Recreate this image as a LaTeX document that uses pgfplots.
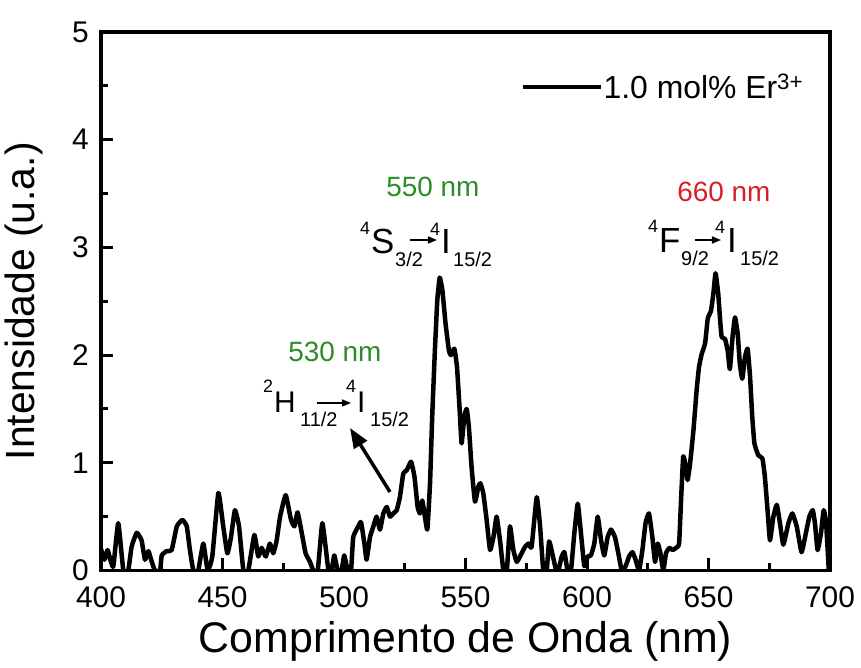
\documentclass[border=0pt]{standalone}
\usepackage{fontspec}
\setmainfont{Liberation Sans}
\usepackage{pgfplots}
\pgfplotsset{compat=1.18}
\usetikzlibrary{arrows.meta}
\definecolor{grn}{RGB}{45,140,40}
\definecolor{rd}{RGB}{215,30,40}
\newcommand{\fs}[1]{\fontsize{#1}{#1}\selectfont}

\pgfplotstableread{
wl I
400.0 0.20
401.4 0.10
402.7 0.19
404.1 0.08
405.1 0.04
407.1 0.44
409.2 0.00
411.2 0.00
412.6 0.22
414.7 0.35
416.7 0.28
418.1 0.10
419.5 0.18
420.9 0.08
422.2 0.00
424.3 0.00
425.0 0.14
427.0 0.18
429.1 0.19
431.2 0.41
433.5 0.47
435.3 0.41
436.6 0.19
438.0 0.00
440.0 0.00
442.1 0.25
443.9 0.00
445.8 0.13
448.3 0.72
450.3 0.41
452.0 0.16
453.5 0.31
455.1 0.56
456.8 0.41
458.6 0.00
460.6 0.00
463.1 0.33
464.7 0.13
466.1 0.21
467.8 0.13
469.5 0.25
470.9 0.16
472.3 0.28
473.7 0.50
476.0 0.70
478.2 0.47
479.6 0.41
480.9 0.54
482.6 0.35
484.2 0.16
486.0 0.08
487.4 0.00
489.2 0.00
491.1 0.44
493.6 0.00
494.9 0.00
496.0 0.14
497.4 0.00
499.0 0.00
500.1 0.14
501.5 0.00
502.9 0.00
503.8 0.31
505.9 0.41
507.0 0.45
508.4 0.25
509.3 0.10
510.7 0.31
512.1 0.41
513.4 0.50
514.8 0.38
516.2 0.53
517.6 0.59
518.9 0.50
520.3 0.53
521.7 0.56
523.0 0.68
524.4 0.90
525.8 0.93
527.6 1.01
529.0 0.87
530.3 0.59
531.3 0.53
532.2 0.65
533.3 0.50
534.3 0.38
535.4 0.81
536.3 1.43
537.4 2.04
538.4 2.51
539.4 2.72
540.5 2.60
541.8 2.29
543.2 2.04
544.0 2.00
545.4 2.06
546.5 1.89
547.6 1.49
548.4 1.18
549.5 1.43
550.5 1.50
551.4 1.33
552.5 0.96
553.9 0.64
555.3 0.78
556.1 0.81
557.3 0.72
558.7 0.47
560.1 0.19
561.5 0.31
562.8 0.50
564.2 0.28
565.6 0.00
567.0 0.00
568.3 0.41
569.7 0.19
571.1 0.08
573.1 0.16
574.5 0.22
575.9 0.25
577.2 0.22
579.3 0.68
580.7 0.41
582.0 0.00
583.4 0.00
584.4 0.27
585.7 0.16
587.1 0.02
588.2 0.00
589.6 0.13
590.7 0.17
592.0 0.00
593.4 0.00
594.8 0.35
596.2 0.62
597.5 0.35
598.9 0.04
600.3 0.13
601.6 0.14
603.0 0.25
604.4 0.50
605.8 0.28
607.1 0.14
608.5 0.31
609.9 0.38
611.5 0.31
612.9 0.16
614.3 0.00
615.9 0.04
617.3 0.13
618.7 0.17
620.0 0.10
621.4 0.00
622.8 0.19
624.1 0.44
625.5 0.53
626.9 0.31
628.0 0.08
629.1 0.25
630.2 0.16
631.4 0.00
632.5 0.16
633.9 0.21
635.3 0.19
636.6 0.21
637.9 0.25
638.7 0.65
639.6 1.06
640.7 0.96
641.4 0.84
642.4 0.99
643.8 1.30
645.1 1.67
646.1 1.89
647.2 2.01
648.6 2.11
649.7 2.34
651.0 2.41
652.0 2.57
652.9 2.76
654.0 2.57
654.7 2.35
655.4 2.17
656.8 2.15
657.9 2.04
658.8 1.87
659.9 2.17
660.9 2.35
662.0 2.20
662.9 1.92
663.9 1.78
665.0 1.98
666.1 2.06
667.1 1.80
668.0 1.43
668.9 1.18
670.5 1.07
672.2 1.04
673.2 0.87
674.3 0.56
675.3 0.28
676.7 0.50
678.1 0.61
679.4 0.44
680.8 0.24
682.9 0.44
684.5 0.53
686.3 0.41
688.3 0.17
690.1 0.35
691.5 0.50
692.9 0.56
693.8 0.44
694.9 0.19
696.3 0.35
697.4 0.56
698.4 0.44
699.5 0.00
}\spectrum

\begin{document}
\begin{tikzpicture}
\begin{axis}[
  name=ax, anchor=south west, at={(0,0)},
  width=729bp, height=538.5bp, scale only axis,
  xmin=400, xmax=700, ymin=0, ymax=5,
  xtick={400,450,...,700}, ytick={0,1,...,5},
  minor x tick num=1, minor y tick num=1,
  tick align=inside, xtick pos=lower, ytick pos=left,
  major tick length=12bp, minor tick length=7bp,
  tick style={black, line width=3bp},
  axis line style={line width=3.8bp},
  /pgf/number format/assume math mode=true,
  every tick label/.append style={inner sep=1bp},
  xticklabel style={font=\fs{30}, yshift=-15bp},
  yticklabel style={font=\fs{30}, xshift=-11bp},
  xlabel={Comprimento de Onda (nm)},
  ylabel={Intensidade (u.a.)},
  xlabel style={font=\fs{43}, at={(axis description cs:0.5,-0.131)}, anchor=center},
  ylabel style={font=\fs{41}, at={(axis description cs:-0.106,0.5)}, anchor=center},
  legend style={draw=none, fill=none, font=\fs{32}, at={(0.576,0.898)}, anchor=west,
    inner sep=0pt, nodes={inner sep=0pt},
    /tikz/every even column/.append style={column sep=5bp}},
  legend image code/.code={\draw[#1] (0bp,0bp) -- (78bp,0bp);},
]
\addplot[black, line width=4.5bp, line join=round, smooth, tension=0.25] table[x=wl, y=I] {\spectrum};
\addlegendentry{1.0 mol\% Er\textsuperscript{3+}}
\end{axis}

\begin{scope}[shift={(-101bp,570.5bp)}, x=1bp, y=-1bp, every node/.style={inner sep=0pt}]
  % colored wavelength labels
  \node[anchor=base, text=grn, font=\fs{28}] at (433,197) {550 nm};
  \node[anchor=base, text=rd,  font=\fs{28}] at (724,202) {660 nm};
  \node[anchor=base, text=grn, font=\fs{28}] at (335,362) {530 nm};
  % 4S3/2 -> 4I15/2
  \node[anchor=base west, font=\fs{18}] at (360,235) {4};
  \node[anchor=base west, font=\fs{35}] at (371,254) {S};
  \node[anchor=base west, font=\fs{20}] at (395,267) {3/2};
  \node[anchor=base west, font=\fs{18}] at (430,236) {4};
  \node[anchor=base west, font=\fs{35}] at (441,254) {I};
  \node[anchor=base west, font=\fs{20}] at (453,267) {15/2};
  \draw[line width=1.5bp, -{Triangle[length=9bp,width=7bp]}] (410,240) -- (437,240);
  % 4F9/2 -> 4I15/2
  \node[anchor=base west, font=\fs{18}] at (648,233) {4};
  \node[anchor=base west, font=\fs{35}] at (659,253) {F};
  \node[anchor=base west, font=\fs{20}] at (681,266) {9/2};
  \node[anchor=base west, font=\fs{18}] at (715,234) {4};
  \node[anchor=base west, font=\fs{35}] at (727,253) {I};
  \node[anchor=base west, font=\fs{20}] at (740,266) {15/2};
  \draw[line width=1.5bp, -{Triangle[length=9bp,width=7bp]}] (695,240) -- (721,240);
  % 2H11/2 -> 4I15/2
  \node[anchor=base west, font=\fs{18}] at (263,393) {2};
  \node[anchor=base west, font=\fs{30}] at (274,413) {H};
  \node[anchor=base west, font=\fs{20}] at (300,427) {11/2};
  \node[anchor=base west, font=\fs{18}] at (346,393) {4};
  \node[anchor=base west, font=\fs{30}] at (357,413) {I};
  \node[anchor=base west, font=\fs{20}] at (370,427) {15/2};
  \draw[line width=1.5bp, -{Triangle[length=9bp,width=7bp]}] (317,403) -- (351,403);
  % pointer arrow
  \draw[line width=3.5bp, -{Triangle[length=20bp,width=15bp]}] (390,492) -- (350,428);
\end{scope}

\pgfresetboundingbox
\path[use as bounding box] (-101bp,-97.5bp) rectangle (760bp,570.5bp);
\end{tikzpicture}
\end{document}
